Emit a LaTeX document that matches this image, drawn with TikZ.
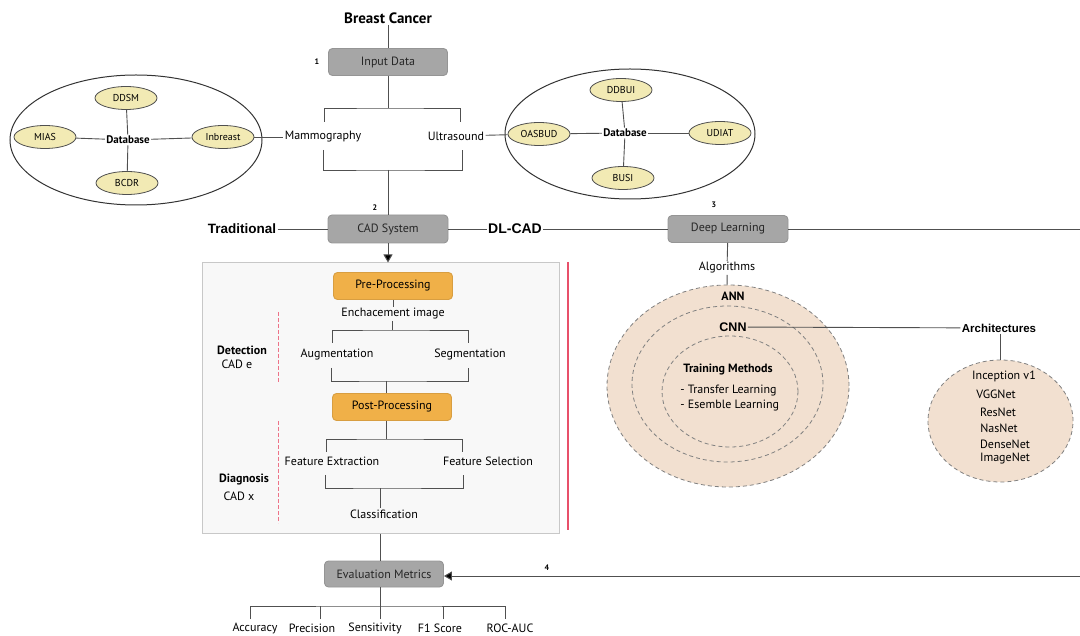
\documentclass[tikz,border=0pt]{standalone}
\usepackage{fontspec}
\setmainfont{PT Sans}
\newfontfamily\heavyfont{Liberation Sans}
\usepackage{tikz}
\usetikzlibrary{calc, positioning, arrows.meta, shapes.geometric, backgrounds}
\definecolor{linegray}{HTML}{505050}
\definecolor{boxgray}{HTML}{A6A6A6}
\definecolor{procorange}{HTML}{F0B048}
\definecolor{dbcream}{HTML}{F2EAB4}
\definecolor{netpink}{HTML}{F2E0D0}
\definecolor{panelfill}{HTML}{F8F8F8}
\definecolor{panelgray}{HTML}{C8C8C8}
\definecolor{cadred}{HTML}{E8506A}
\tikzstyle{txt}=[inner sep=1pt, text=black, font=\fontsize{12}{14}\selectfont]
\tikzstyle{bld}=[txt, font=\bfseries\fontsize{12}{14}\selectfont]
\tikzstyle{hvy}=[txt, font=\heavyfont\bfseries\fontsize{12.5}{15}\selectfont]
\tikzstyle{num}=[txt, font=\bfseries\fontsize{8}{9}\selectfont]
\tikzstyle{ttl}=[txt, font=\bfseries\fontsize{15}{17}\selectfont]
\tikzstyle{gbox}=[draw=boxgray!90!black, fill=boxgray, rounded corners=4pt, minimum width=119pt, minimum height=27pt, text=black!85, font=\fontsize{12}{14}\selectfont]
\tikzstyle{obox}=[gbox, draw=procorange!90!black, fill=procorange, text=black]
\tikzstyle{dbitem}=[shape=ellipse, draw=linegray, fill=dbcream, line width=0.8pt, inner sep=0pt, minimum width=62pt, minimum height=23pt, text=black, font=\fontsize{10}{12}\selectfont]
\tikzstyle{dbring}=[shape=ellipse, draw=black!80, line width=1pt, inner sep=0pt]
\tikzstyle{netring}=[shape=ellipse, draw=gray, fill=netpink, dash pattern=on 4pt off 3pt, line width=0.8pt, inner sep=0pt]
\tikzstyle{tip}=[-{Triangle[length=8pt, width=9pt, fill=black]}, line width=1pt]
\tikzset{>=stealth}

\begin{document}
\begin{tikzpicture}[x=1pt, y=-1pt, color=linegray, line width=0.9pt]
\useasboundingbox (0,0) rectangle (1080,636);
% the input part
\node[ttl] (BC) at (388,18) {Breast Cancer};
\node[gbox] (ID) at (388,62) {Input Data};
\node[num] (n1) at (317,62) {1};
\coordinate (tb) at (388,108);
\coordinate (tL) at (324,122);
\coordinate (tR) at (460,122);
\node[txt] (Mam) at (323,137) {Mammography};
\node[txt] (US) at (456,136) {Ultrasound};
\coordinate (bL) at (323,150);
\coordinate (bR) at (462,150);
\coordinate (bb) at (388,170);
\draw (BC) -- (ID);
\draw (ID) -- (tb);
\draw (tL) |- (tb) -| (tR);
\draw (bL) |- (bb) -| (bR);
% the mammography databases
\node[dbring, minimum width=252pt, minimum height=130pt] (LR) at (136,140) {};
\node[bld, font=\bfseries\fontsize{11}{13}\selectfont] (LDB) at (128,140) {Database};
\node[dbitem] (DDSM) at (126,98) {DDSM};
\node[dbitem] (MIAS) at (45,137) {MIAS};
\node[dbitem] (Inb) at (223,137) {Inbreast};
\node[dbitem] (BCDR) at (127,183) {BCDR};
\draw (DDSM) -- (LDB);
\draw (LDB) -- (BCDR);
\draw (MIAS) -- (LDB);
\draw (LDB) -- (Inb);
\draw (Inb) -- (Mam);
% the ultrasound databases
\node[dbring, minimum width=250pt, minimum height=130pt] (RR) at (630,134) {};
\node[bld, font=\bfseries\fontsize{11}{13}\selectfont] (RDB) at (625,133) {Database};
\node[dbitem] (DDBUI) at (621,90) {DDBUI};
\node[dbitem] (OAS) at (539,134) {OASBUD};
\node[dbitem] (UDIAT) at (720,133) {UDIAT};
\node[dbitem] (BUSI) at (623,178) {BUSI};
\draw (DDBUI) -- (RDB);
\draw (RDB) -- (BUSI);
\draw (OAS) -- (RDB);
\draw (RDB) -- (UDIAT);
\draw (US) -- (OAS);
% the CAD row
\node[hvy, font=\heavyfont\bfseries\fontsize{13.5}{15}\selectfont] (Trad) at (242,229) {Traditional};
\node[gbox, minimum width=120pt, minimum height=28pt] (CAD) at (388,229) {CAD System};
\node[num] (n2) at (375,208) {2};
\node[hvy, font=\heavyfont\bfseries\fontsize{14}{16}\selectfont] (DLCAD) at (515,229) {DL-CAD};
\node[gbox, minimum width=120pt] (DL) at (728,229) {Deep Learning};
\node[num] (n3) at (714,205) {3};
\coordinate (eR) at (1080,229);
\draw (bb) -- (CAD);
\draw (Trad) -- (CAD);
\draw (CAD) -- (DLCAD);
\draw (DLCAD) -- (DL);
\draw (DL) -- (eR);
% the traditional CAD panel
\node[draw=panelgray, fill=panelfill, line width=1pt, minimum width=357pt, minimum height=270pt, inner sep=0pt] (P) at (380.5,398) {};
\draw[tip] (CAD.south) -- (CAD.south |- P.north);
\draw[cadred, line width=1.6pt] (568,262) -- (568,530);
\node[obox] (Pre) at (393,286) {Pre-Processing};
\node[txt] (Enh) at (393,314) {Enchacement image};
\coordinate (eb) at (392,330);
\coordinate (eL) at (332,343);
\coordinate (eRt) at (468,343);
\node[txt] (Aug) at (337,355) {Augmentation};
\node[txt] (Seg) at (470,355) {Segmentation};
\coordinate (aL) at (331,368);
\coordinate (aR) at (468,368);
\coordinate (ab) at (386,381);
\node[obox] (Post) at (392,407) {Post-Processing};
\coordinate (pb) at (386,439);
\coordinate (pL) at (326,452);
\coordinate (pR) at (462,452);
\node[txt] (FE) at (332,461) {Feature Extraction};
\node[txt] (FS) at (488,461) {Feature Selection};
\coordinate (fL) at (325,475);
\coordinate (fR) at (463,475);
\coordinate (fb) at (380,488);
\node[txt] (Cls) at (384,514) {Classification};
\draw (Pre) -- (Enh);
\draw (Enh.south -| eb) -- (eb);
\draw (eL) |- (eb) -| (eRt);
\draw (aL) |- (ab) -| (aR);
\draw (ab) -- (ab |- Post.north);
\draw (Post.south -| pb) -- (pb);
\draw (pL) |- (pb) -| (pR);
\draw (fL) |- (fb) -| (fR);
\draw (fb) -- (fb |- Cls.north);
\node[bld] (Det) at (242,350) {Detection};
\node[txt] (CADe) at (237,364) {CAD e};
\node[bld] (Dia) at (244,480) {Diagnosis};
\node[txt] (CADx) at (239,496) {CAD x};
\draw[cadred!80, line width=1pt, dash pattern=on 4pt off 2pt] (278,312) -- (278,382);
\draw[cadred!80, line width=1pt, dash pattern=on 4pt off 2pt] (278,421) -- (278,523);
% the deep learning part
\node[txt] (Alg) at (727,268) {Algorithms};
\node[netring, minimum width=242pt, minimum height=202pt] (ANNr) at (728,386) {};
\node[netring, minimum width=191pt, minimum height=156pt] (CNNr) at (727.5,384) {};
\node[netring, minimum width=136pt, minimum height=111pt] (TMr) at (730,391.5) {};
\node[bld] (ANN) at (733,296) {ANN};
\node[hvy] (CNN) at (733,327) {CNN};
\node[bld] (TM) at (728,370) {Training Methods};
\node[txt, anchor=west] (TL) at (679,391) {- Transfer Learning};
\node[txt, anchor=west] (EL) at (679,406) {- Esemble Learning};
\node[hvy, font=\heavyfont\bfseries\fontsize{11.5}{14}\selectfont] (Arch) at (999,328) {Architectures};
\node[netring, minimum width=145pt, minimum height=122pt] (ARr) at (1000.5,421) {};
\node[txt] (Inc) at (1004,376) {Inception v1};
\node[txt] (VGG) at (996,394) {VGGNet};
\node[txt] (Res) at (998,412) {ResNet};
\node[txt] (Nas) at (999,428) {NasNet};
\node[txt] (Dense) at (1005,444) {DenseNet};
\node[txt] (Img) at (1005,459) {ImageNet};
\draw (DL) -- (Alg);
\draw (Alg) -- (ANNr);
\draw (CNN) -- (Arch);
\draw (Arch.south -| ARr.north) -- (ARr);
% the evaluation part
\node[gbox, minimum width=119pt, minimum height=26pt] (EM) at (384,574) {Evaluation Metrics};
\node[num] (n4) at (547,568) {4};
\coordinate (eR2) at (1080,576);
\draw (P.south -| fb) -- (fb |- EM.north);
\draw[tip] (eR2) -- (eR2 -| EM.east);
\coordinate (mb) at (380,606);
\foreach \x/\n in {250/a, 320/b, 380/c, 443/d, 505/e}
  \coordinate (t\n) at (\x,619);
\draw (EM.south -| mb) -- (mb);
\draw (ta) |- (mb) -| (te);
\foreach \n in {b, c, d}
  \draw (t\n) -- (t\n |- mb);
\node[txt] (Acc) at (255,628) {Accuracy};
\node[txt] (Prec) at (312,628) {Precision};
\node[txt] (Sens) at (375,628) {Sensitivity};
\node[txt] (F1) at (440,628) {F1 Score};
\node[txt] (ROC) at (510,628) {ROC-AUC};
\end{tikzpicture}
\end{document}
